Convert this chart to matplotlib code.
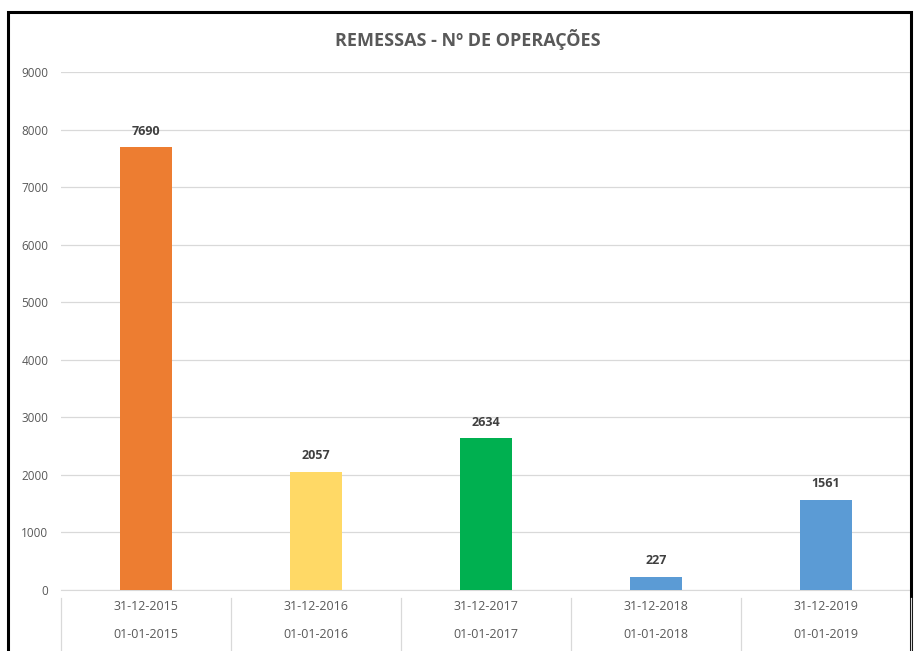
import matplotlib
matplotlib.use("Agg")
import matplotlib.pyplot as plt
from matplotlib.patches import Rectangle
from matplotlib.lines import Line2D

title = "REMESSAS - Nº DE OPERAÇÕES"
end_dates = ["31-12-2015", "31-12-2016", "31-12-2017", "31-12-2018", "31-12-2019"]
start_dates = ["01-01-2015", "01-01-2016", "01-01-2017", "01-01-2018", "01-01-2019"]
values = [7690, 2057, 2634, 227, 1561]
colors = ["#ED7D31", "#FFD966", "#00B050", "#5B9BD5", "#5B9BD5"]
yticks = [0, 1000, 2000, 3000, 4000, 5000, 6000, 7000, 8000, 9000]

plt.rcParams['font.family'] = ['Open Sans', 'DejaVu Sans']

W, H = 915, 651
fig = plt.figure(figsize=(W / 100, H / 100), dpi=100)
fig.patch.set_facecolor("white")

# frame border
fig.add_artist(Rectangle((8 / W, -0.05), (911 - 8) / W, (H - 12) / H + 0.05,
                         transform=fig.transFigure, fill=False,
                         edgecolor="black", linewidth=2.2))

left, right, y0, y9 = 61, 911, 590, 72
ax = fig.add_axes([left / W, (H - y0) / H, (right - left) / W, (y0 - y9) / H])
x = list(range(len(values)))
ax.bar(x, values, width=0.31, color=colors, zorder=3)
ax.set_xlim(-0.5, len(values) - 0.5)
ax.set_ylim(0, 9000)
ax.set_yticks(yticks)
ax.set_yticklabels([str(t) for t in yticks], fontsize=8.5, color="#595959")
ax.tick_params(axis="y", length=0, pad=9)
ax.set_xticks([])
for s in ["top", "right", "left"]:
    ax.spines[s].set_visible(False)
ax.spines["bottom"].set_color("#D9D9D9")
ax.grid(axis="y", color="#D9D9D9", linewidth=0.9, zorder=0)
ax.set_axisbelow(True)

for xi, v in zip(x, values):
    ax.annotate(str(v), (xi, v), xytext=(0, 7), textcoords="offset points",
                ha="center", va="bottom", fontsize=9, fontweight="bold",
                color="#404040")

# two-level category labels
cw = (right - left) / len(values)
for i, (e, s) in enumerate(zip(end_dates, start_dates)):
    cx = (left + cw * (i + 0.5)) / W
    fig.text(cx, 1 - 607 / H, e, ha="center", va="center", fontsize=9, color="#595959")
    fig.text(cx, 1 - 634 / H, s, ha="center", va="center", fontsize=9, color="#595959")
for i in range(len(values) + 1):
    xx = (left + cw * i) / W
    fig.add_artist(Line2D([xx, xx], [0, 1 - 598 / H], transform=fig.transFigure,
                          color="#D9D9D9", linewidth=0.9))

fig.text(468 / W, 1 - 40 / H, title, ha="center", va="center", fontsize=13,
         fontweight="bold", color="#595959")

fig.savefig("out.png", dpi=100)
